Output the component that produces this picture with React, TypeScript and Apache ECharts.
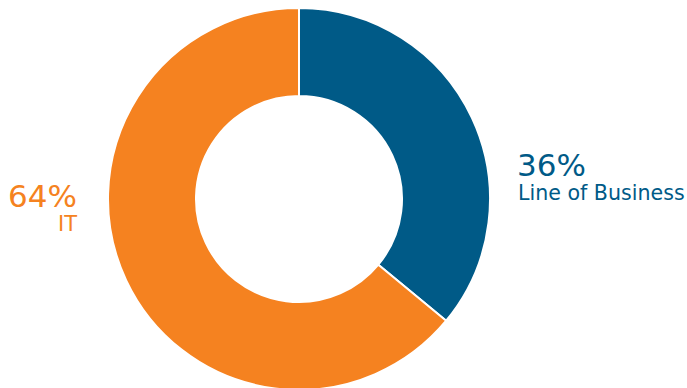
import React, { useEffect, useRef } from "react";
import * as echarts from "echarts";

const categories = ["Line of Business", "IT"];
const values = [36, 64];
const colors = ["#005A87", "#F58220"];

export default function App() {
  const ref = useRef<HTMLDivElement>(null);
  useEffect(() => {
    document.body.style.margin = "0";
    const chart = echarts.init(ref.current!, undefined, { renderer: "svg" });
    const font = "'DejaVu Sans', sans-serif";
    chart.setOption({
      animation: false,
      series: [
        {
          type: "pie",
          center: [299, 199],
          radius: [103, 191],
          startAngle: 90,
          clockwise: true,
          label: { show: false },
          labelLine: { show: false },
          silent: true,
          itemStyle: { borderColor: "#ffffff", borderWidth: 2 },
          data: categories.map((c, i) => ({ name: c, value: values[i], itemStyle: { color: colors[i] } })),
        },
      ],
      graphic: [
        { type: "text", left: 517, top: 149, style: { text: values[0] + "%", fill: colors[0], font: `400 31px ${font}` } },
        { type: "text", left: 518, top: 182, style: { text: categories[0], fill: colors[0], font: `400 20.6px ${font}` } },
        { type: "text", right: 610, top: 180, style: { text: values[1] + "%", fill: colors[1], font: `400 31px ${font}`, textAlign: "right" } },
        { type: "text", right: 610, top: 213, style: { text: categories[1], fill: colors[1], font: `400 21px ${font}`, textAlign: "right" } },
      ],
    });
    return () => chart.dispose();
  }, []);
  return <div ref={ref} style={{ position: "absolute", left: 0, top: 0, width: 687, height: 388 }} />;
}
